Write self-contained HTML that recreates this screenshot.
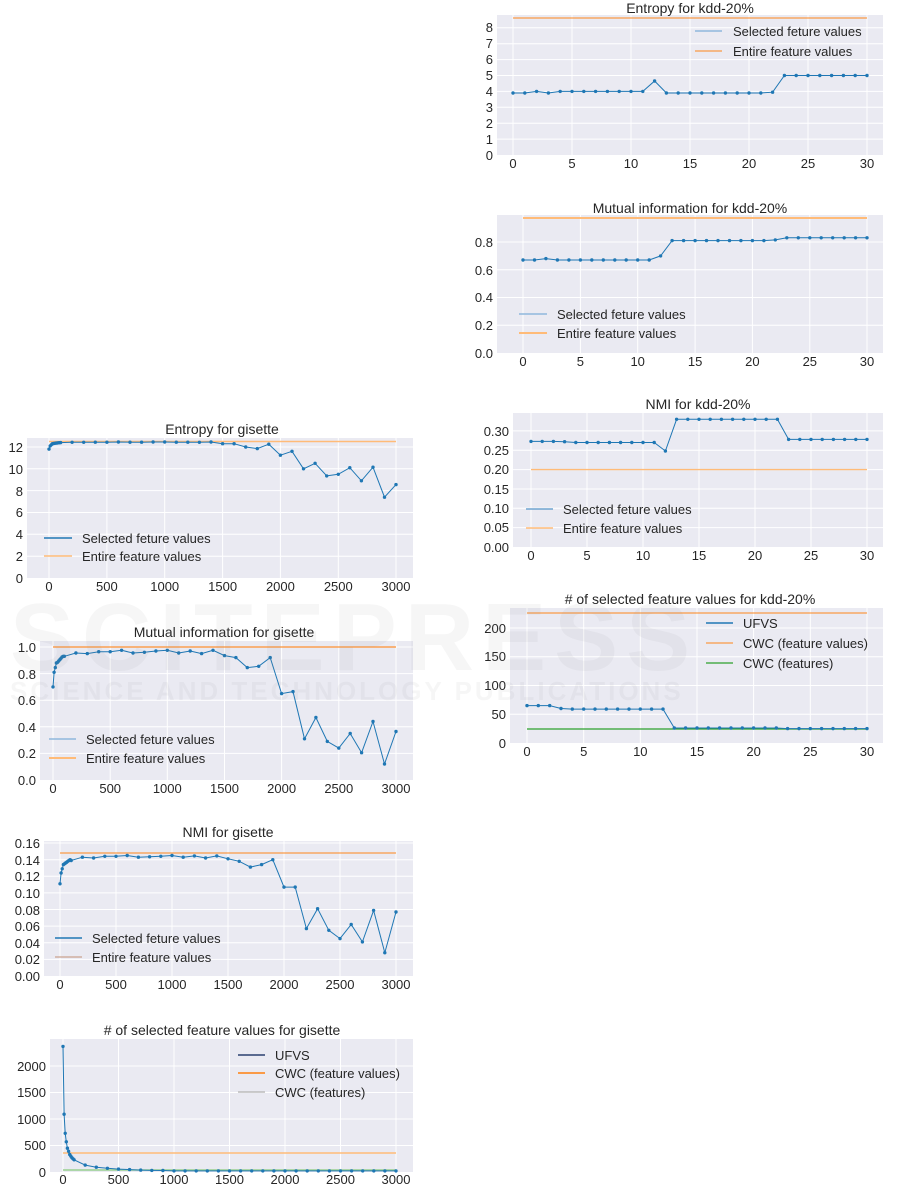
<!DOCTYPE html>
<html><head><meta charset="utf-8"><style>
html,body{margin:0;padding:0;background:#fff;}
svg{display:block;font-family:"Liberation Sans",Arial,sans-serif;}
.bg{fill:#eaeaf2}
.g{stroke:#fff;stroke-width:1}
.t{font-size:13px;fill:#262626}
.ti{font-size:14px;fill:#262626;text-anchor:middle}
.yl{text-anchor:end}
.xl{text-anchor:middle}
.s{fill:none;stroke:#1f77b4;stroke-width:1;marker-start:url(#m);marker-mid:url(#m);marker-end:url(#m)}
.o{stroke:#ff7f0e;stroke-width:1.2;opacity:.75}
.gr{stroke:#2ca02c;stroke-width:1.2}
.lb{stroke:#1f77b4;stroke-width:1.4}
</style></head><body>
<svg width="901" height="1184" viewBox="0 0 901 1184">
<defs><marker id="m" viewBox="0 0 4 4" refX="2" refY="2" markerWidth="4" markerHeight="4" markerUnits="userSpaceOnUse"><circle cx="2" cy="2" r="1.7" fill="#1f77b4"/></marker></defs>

<!-- C1 kdd entropy -->
<g>
<rect class="bg" x="497" y="15" width="386" height="140"/>
<g class="g">
<line x1="497" x2="883" y1="139.1" y2="139.1"/><line x1="497" x2="883" y1="123.2" y2="123.2"/><line x1="497" x2="883" y1="107.3" y2="107.3"/><line x1="497" x2="883" y1="91.4" y2="91.4"/><line x1="497" x2="883" y1="75.5" y2="75.5"/><line x1="497" x2="883" y1="59.6" y2="59.6"/><line x1="497" x2="883" y1="43.7" y2="43.7"/><line x1="497" x2="883" y1="27.8" y2="27.8"/>
<line x1="513" x2="513" y1="15" y2="155"/><line x1="572" x2="572" y1="15" y2="155"/><line x1="631" x2="631" y1="15" y2="155"/><line x1="690" x2="690" y1="15" y2="155"/><line x1="749" x2="749" y1="15" y2="155"/><line x1="808" x2="808" y1="15" y2="155"/><line x1="867" x2="867" y1="15" y2="155"/>
</g>
<line class="o" x1="513" x2="867" y1="18" y2="18"/>
<polyline class="s" points="513,93 524.8,93 536.6,91.4 548.4,93 560.2,91.4 572,91.4 583.8,91.4 595.6,91.4 607.4,91.4 619.2,91.4 631,91.4 642.8,91.4 654.6,81 666.4,93 678.2,93 690,93 701.8,93 713.6,93 725.4,93 737.2,93 749,93 760.8,93 772.6,92.2 784.4,75.5 796.2,75.5 808,75.5 819.8,75.5 831.6,75.5 843.4,75.5 855.2,75.5 867,75.5"/>
<text class="ti" x="690" y="13">Entropy for kdd-20%</text>
<g class="t yl"><text x="493" y="160">0</text><text x="493" y="144">1</text><text x="493" y="128">2</text><text x="493" y="112">3</text><text x="493" y="96">4</text><text x="493" y="80">5</text><text x="493" y="64">6</text><text x="493" y="48">7</text><text x="493" y="32">8</text></g>
<g class="t xl"><text x="513" y="168">0</text><text x="572" y="168">5</text><text x="631" y="168">10</text><text x="690" y="168">15</text><text x="749" y="168">20</text><text x="808" y="168">25</text><text x="867" y="168">30</text></g>
<line x1="695" x2="722" y1="31" y2="31" stroke="#8fb8dc" stroke-width="1.4"/><text class="t" x="733" y="36">Selected feture values</text>
<line class="o" x1="695" x2="722" y1="51" y2="51"/><text class="t" x="733" y="56">Entire feature values</text>
</g>

<!-- C2 kdd MI -->
<g>
<rect class="bg" x="497" y="215" width="386" height="138"/>
<g class="g">
<line x1="497" x2="883" y1="325.3" y2="325.3"/><line x1="497" x2="883" y1="297.5" y2="297.5"/><line x1="497" x2="883" y1="269.8" y2="269.8"/><line x1="497" x2="883" y1="242" y2="242"/>
<line x1="523" x2="523" y1="215" y2="353"/><line x1="580.4" x2="580.4" y1="215" y2="353"/><line x1="637.7" x2="637.7" y1="215" y2="353"/><line x1="695.1" x2="695.1" y1="215" y2="353"/><line x1="752.4" x2="752.4" y1="215" y2="353"/><line x1="809.8" x2="809.8" y1="215" y2="353"/><line x1="867" x2="867" y1="215" y2="353"/>
</g>
<line x1="523" x2="867" y1="218" y2="218" stroke="#ffbb78" stroke-width="2"/>
<polyline class="s" points="523,260 534.5,260 545.9,258.6 557.4,260 568.9,260 580.4,260 591.8,260 603.3,260 614.8,260 626.2,260 637.7,260 649.2,260 660.6,255.9 672.1,240.6 683.6,240.6 695.1,240.6 706.5,240.6 718,240.6 729.5,240.6 740.9,240.6 752.4,240.6 763.9,240.6 775.3,239.9 786.8,237.8 798.3,237.8 809.8,237.8 821.2,237.8 832.7,237.8 844.2,237.8 855.6,237.8 867,237.8"/>
<text class="ti" x="690" y="213">Mutual information for kdd-20%</text>
<g class="t yl"><text x="493" y="358">0.0</text><text x="493" y="330">0.2</text><text x="493" y="302">0.4</text><text x="493" y="275">0.6</text><text x="493" y="247">0.8</text></g>
<g class="t xl"><text x="523" y="366">0</text><text x="580.4" y="366">5</text><text x="637.7" y="366">10</text><text x="695.1" y="366">15</text><text x="752.4" y="366">20</text><text x="809.8" y="366">25</text><text x="867" y="366">30</text></g>
<line x1="519" x2="547" y1="314" y2="314" stroke="#8fb8dc" stroke-width="1.4"/><text class="t" x="557" y="319">Selected feture values</text>
<line x1="519" x2="547" y1="333" y2="333" stroke="#ffbb78" stroke-width="2"/><text class="t" x="557" y="338">Entire feature values</text>
</g>

<!-- C3 kdd NMI -->
<g>
<rect class="bg" x="513" y="413" width="370" height="134"/>
<g class="g">
<line x1="513" x2="883" y1="527.65" y2="527.65"/><line x1="513" x2="883" y1="508.3" y2="508.3"/><line x1="513" x2="883" y1="488.95" y2="488.95"/><line x1="513" x2="883" y1="469.6" y2="469.6"/><line x1="513" x2="883" y1="450.25" y2="450.25"/><line x1="513" x2="883" y1="430.9" y2="430.9"/>
<line x1="531" x2="531" y1="413" y2="547"/><line x1="587" x2="587" y1="413" y2="547"/><line x1="643" x2="643" y1="413" y2="547"/><line x1="699" x2="699" y1="413" y2="547"/><line x1="755" x2="755" y1="413" y2="547"/><line x1="811" x2="811" y1="413" y2="547"/><line x1="867" x2="867" y1="413" y2="547"/>
</g>
<line x1="531" x2="867" y1="469.6" y2="469.6" stroke="#ffbb78" stroke-width="1.4"/>
<polyline class="s" points="531,441.4 542.2,441.4 553.4,441.4 564.6,441.7 575.8,442.5 587,442.5 598.2,442.5 609.4,442.5 620.6,442.5 631.8,442.5 643,442.5 654.2,442.5 665.4,451 676.6,419.3 687.8,419.3 699,419.3 710.2,419.3 721.4,419.3 732.6,419.3 743.8,419.3 755,419.3 766.2,419.3 777.4,419.3 788.6,439.4 799.8,439.4 811,439.4 822.2,439.4 833.4,439.4 844.6,439.4 855.8,439.4 867,439.4"/>
<text class="ti" x="698" y="409">NMI for kdd-20%</text>
<g class="t yl"><text x="509" y="552">0.00</text><text x="509" y="532">0.05</text><text x="509" y="513">0.10</text><text x="509" y="494">0.15</text><text x="509" y="474">0.20</text><text x="509" y="455">0.25</text><text x="509" y="436">0.30</text></g>
<g class="t xl"><text x="531" y="560">0</text><text x="587" y="560">5</text><text x="643" y="560">10</text><text x="699" y="560">15</text><text x="755" y="560">20</text><text x="811" y="560">25</text><text x="867" y="560">30</text></g>
<line x1="526" x2="553" y1="509" y2="509" stroke="#6fa3cf" stroke-width="1.6"/><text class="t" x="563" y="514">Selected feture values</text>
<line x1="526" x2="553" y1="528" y2="528" stroke="#ffbb78" stroke-width="1.4"/><text class="t" x="563" y="533">Entire feature values</text>
</g>

<!-- C4 kdd count -->
<g>
<rect class="bg" x="510" y="608" width="373" height="135"/>
<g class="g">
<line x1="510" x2="883" y1="714.25" y2="714.25"/><line x1="510" x2="883" y1="685.5" y2="685.5"/><line x1="510" x2="883" y1="656.75" y2="656.75"/><line x1="510" x2="883" y1="628" y2="628"/>
<line x1="527" x2="527" y1="608" y2="743"/><line x1="583.7" x2="583.7" y1="608" y2="743"/><line x1="640.3" x2="640.3" y1="608" y2="743"/><line x1="697" x2="697" y1="608" y2="743"/><line x1="753.6" x2="753.6" y1="608" y2="743"/><line x1="810.3" x2="810.3" y1="608" y2="743"/><line x1="867" x2="867" y1="608" y2="743"/>
</g>
<line class="o" x1="527" x2="867" y1="613" y2="613"/>
<line class="gr" x1="527" x2="867" y1="729" y2="729"/>
<polyline class="s" points="527,705.6 538.3,705.6 549.7,705.6 561,708.5 572.3,709.1 583.7,709.1 595,709.1 606.3,709.1 617.6,709.1 629,709.1 640.3,709.1 651.6,709.1 663,709.1 674.3,728 685.6,728 697,728 708.3,728 719.6,728 731,728 742.3,728 753.6,728 765,728 776.3,728 787.6,728.6 799,728.6 810.3,728.6 821.6,728.6 833,728.6 844.3,728.6 855.6,728.6 867,728.6"/>
<text class="ti" x="690" y="604"># of selected feature values for kdd-20%</text>
<g class="t yl"><text x="506" y="748">0</text><text x="506" y="719">50</text><text x="506" y="690">100</text><text x="506" y="661">150</text><text x="506" y="633">200</text></g>
<g class="t xl"><text x="527" y="756">0</text><text x="583.7" y="756">5</text><text x="640.3" y="756">10</text><text x="697" y="756">15</text><text x="753.6" y="756">20</text><text x="810.3" y="756">25</text><text x="867" y="756">30</text></g>
<line class="lb" x1="706" x2="733" y1="623" y2="623"/><text class="t" x="743" y="628">UFVS</text>
<line class="o" x1="706" x2="733" y1="643" y2="643"/><text class="t" x="743" y="648">CWC (feature values)</text>
<line class="gr" x1="706" x2="733" y1="663" y2="663"/><text class="t" x="743" y="668">CWC (features)</text>
</g>

<!-- G1 gisette entropy -->
<g>
<rect class="bg" x="27" y="438" width="386" height="140"/>
<g class="g">
<line x1="27" x2="413" y1="556.2" y2="556.2"/><line x1="27" x2="413" y1="534.3" y2="534.3"/><line x1="27" x2="413" y1="512.5" y2="512.5"/><line x1="27" x2="413" y1="490.6" y2="490.6"/><line x1="27" x2="413" y1="468.8" y2="468.8"/><line x1="27" x2="413" y1="447" y2="447"/>
<line x1="49" x2="49" y1="438" y2="578"/><line x1="106.9" x2="106.9" y1="438" y2="578"/><line x1="164.7" x2="164.7" y1="438" y2="578"/><line x1="222.6" x2="222.6" y1="438" y2="578"/><line x1="280.4" x2="280.4" y1="438" y2="578"/><line x1="338.3" x2="338.3" y1="438" y2="578"/><line x1="396" x2="396" y1="438" y2="578"/>
</g>
<line x1="49" x2="396" y1="441.5" y2="441.5" stroke="#ffbb78" stroke-width="1.4"/>
<polyline class="s" points="49,449.1 50.2,445.9 51.3,444.8 52.5,443.7 53.6,443.5 54.8,443.3 55.9,443.1 57.1,443 58.3,442.8 59.4,442.7 60.6,442.6 72.1,442.3 83.7,442.3 95.3,442.2 106.9,442.2 118.4,442 130,442.2 141.6,442.2 153.1,442 164.7,442 176.3,442.2 187.8,442.2 199.4,442.3 211,442 222.6,443.7 234.1,443.7 245.7,447 257.3,448.6 268.8,444.2 280.4,455.2 292,451.3 303.5,468.8 315.1,463.3 326.7,475.9 338.3,474.3 349.8,467.7 361.4,480.8 373,467.2 384.5,497.2 396,484.6"/>
<text class="ti" x="222" y="434">Entropy for gisette</text>
<g class="t yl"><text x="23" y="583">0</text><text x="23" y="561">2</text><text x="23" y="539">4</text><text x="23" y="517">6</text><text x="23" y="496">8</text><text x="23" y="474">10</text><text x="23" y="452">12</text></g>
<g class="t xl"><text x="49" y="591">0</text><text x="106.9" y="591">500</text><text x="164.7" y="591">1000</text><text x="222.6" y="591">1500</text><text x="280.4" y="591">2000</text><text x="338.3" y="591">2500</text><text x="396" y="591">3000</text></g>
<line class="lb" x1="44" x2="72" y1="538" y2="538"/><text class="t" x="82" y="543">Selected feture values</text>
<line x1="44" x2="72" y1="556" y2="556" stroke="#ffbb78" stroke-width="1.4"/><text class="t" x="82" y="561">Entire feature values</text>
</g>

<!-- G2 gisette MI -->
<g>
<rect class="bg" x="40" y="641" width="373" height="139"/>
<g class="g">
<line x1="40" x2="413" y1="753.4" y2="753.4"/><line x1="40" x2="413" y1="726.8" y2="726.8"/><line x1="40" x2="413" y1="700.2" y2="700.2"/><line x1="40" x2="413" y1="673.6" y2="673.6"/><line x1="40" x2="413" y1="647" y2="647"/>
<line x1="53" x2="53" y1="641" y2="780"/><line x1="110.2" x2="110.2" y1="641" y2="780"/><line x1="167.3" x2="167.3" y1="641" y2="780"/><line x1="224.5" x2="224.5" y1="641" y2="780"/><line x1="281.6" x2="281.6" y1="641" y2="780"/><line x1="338.8" x2="338.8" y1="641" y2="780"/><line x1="396" x2="396" y1="641" y2="780"/>
</g>
<line class="o" x1="53" x2="396" y1="647" y2="647" style="opacity:.85"/>
<polyline class="s" points="53,686.9 54.1,672.3 55.3,667.6 56.4,663 57.6,662.3 58.7,661 59.9,659.6 61,658.3 62.1,657 63.3,656.3 64.4,656.3 75.9,653 87.3,653.6 98.7,651.7 110.2,651.7 121.6,650.3 133,653 144.4,652.3 155.9,651 167.3,650.3 178.7,653 190.2,651 201.6,653.6 213,650.3 224.5,655.6 235.9,657.6 247.3,667.6 258.7,666.3 270.2,657.6 281.6,693.6 293,691.6 304.5,738.8 315.9,717.5 327.3,741.4 338.8,748.1 350.2,733.5 361.6,752.7 373,721.5 384.5,764 396,731.5"/>
<text class="ti" x="224" y="637">Mutual information for gisette</text>
<g class="t yl"><text x="36" y="785">0.0</text><text x="36" y="758">0.2</text><text x="36" y="732">0.4</text><text x="36" y="705">0.6</text><text x="36" y="679">0.8</text><text x="36" y="652">1.0</text></g>
<g class="t xl"><text x="53" y="793">0</text><text x="110.2" y="793">500</text><text x="167.3" y="793">1000</text><text x="224.5" y="793">1500</text><text x="281.6" y="793">2000</text><text x="338.8" y="793">2500</text><text x="396" y="793">3000</text></g>
<line x1="49" x2="76" y1="739" y2="739" stroke="#8fb8dc" stroke-width="1.4"/><text class="t" x="86" y="744">Selected feture values</text>
<line x1="49" x2="76" y1="758" y2="758" stroke="#ffbb78" stroke-width="2"/><text class="t" x="86" y="763">Entire feature values</text>
</g>

<!-- G3 gisette NMI -->
<g>
<rect class="bg" x="44" y="841" width="369" height="135"/>
<g class="g">
<line x1="44" x2="413" y1="959.4" y2="959.4"/><line x1="44" x2="413" y1="942.8" y2="942.8"/><line x1="44" x2="413" y1="926.1" y2="926.1"/><line x1="44" x2="413" y1="909.5" y2="909.5"/><line x1="44" x2="413" y1="892.9" y2="892.9"/><line x1="44" x2="413" y1="876.3" y2="876.3"/><line x1="44" x2="413" y1="859.7" y2="859.7"/><line x1="44" x2="413" y1="843" y2="843"/>
<line x1="60" x2="60" y1="841" y2="976"/><line x1="116" x2="116" y1="841" y2="976"/><line x1="172" x2="172" y1="841" y2="976"/><line x1="228" x2="228" y1="841" y2="976"/><line x1="284" x2="284" y1="841" y2="976"/><line x1="340" x2="340" y1="841" y2="976"/><line x1="396" x2="396" y1="841" y2="976"/>
</g>
<line class="o" x1="60" x2="396" y1="853" y2="853"/>
<polyline class="s" points="60,883.8 61.1,873 62.2,868.8 63.4,864.6 64.5,863.8 65.6,863 66.7,862.2 67.8,861.3 69,860.5 70.1,859.7 71.2,860.5 82.4,857.2 93.6,858 104.8,856.3 116,856.3 127.2,855.5 138.4,857.2 149.6,856.8 160.8,856.3 172,855.5 183.2,857.2 194.4,855.9 205.6,858 216.8,855.9 228,858.8 239.2,861.3 250.4,867.1 261.6,864.6 272.8,859.7 284,887.1 295.2,887.1 306.4,928.6 317.6,908.7 328.8,930.3 340,938.6 351.2,924.5 362.4,941.9 373.6,910.4 384.8,952.7 396,912"/>
<text class="ti" x="228" y="837">NMI for gisette</text>
<g class="t yl"><text x="40" y="981">0.00</text><text x="40" y="964">0.02</text><text x="40" y="948">0.04</text><text x="40" y="931">0.06</text><text x="40" y="915">0.08</text><text x="40" y="898">0.10</text><text x="40" y="881">0.12</text><text x="40" y="865">0.14</text><text x="40" y="848">0.16</text></g>
<g class="t xl"><text x="60" y="989">0</text><text x="116" y="989">500</text><text x="172" y="989">1000</text><text x="228" y="989">1500</text><text x="284" y="989">2000</text><text x="340" y="989">2500</text><text x="396" y="989">3000</text></g>
<line class="lb" x1="55" x2="82" y1="938" y2="938"/><text class="t" x="92" y="943">Selected feture values</text>
<line x1="55" x2="82" y1="957" y2="957" stroke="#c9a28f" stroke-width="1.2"/><text class="t" x="92" y="962">Entire feature values</text>
</g>

<!-- G4 gisette count -->
<g>
<rect class="bg" x="50" y="1039" width="363" height="133"/>
<g class="g">
<line x1="50" x2="413" y1="1145.5" y2="1145.5"/><line x1="50" x2="413" y1="1119" y2="1119"/><line x1="50" x2="413" y1="1092.5" y2="1092.5"/><line x1="50" x2="413" y1="1066" y2="1066"/>
<line x1="63" x2="63" y1="1039" y2="1172"/><line x1="118.5" x2="118.5" y1="1039" y2="1172"/><line x1="174" x2="174" y1="1039" y2="1172"/><line x1="229.5" x2="229.5" y1="1039" y2="1172"/><line x1="285" x2="285" y1="1039" y2="1172"/><line x1="340.5" x2="340.5" y1="1039" y2="1172"/><line x1="396" x2="396" y1="1039" y2="1172"/>
</g>
<line x1="63" x2="396" y1="1153" y2="1153" stroke="#ffbb78" stroke-width="1.4"/>
<line x1="63" x2="396" y1="1170" y2="1170" stroke="#98d08f" stroke-width="1.4"/>
<polyline class="s" points="63,1046.4 64.1,1114.2 65.2,1133.3 66.3,1141.8 67.4,1148.2 68.6,1151.3 69.7,1154.5 70.8,1156.1 71.9,1157.7 73,1158.8 74.1,1159.8 85.2,1165.1 96.3,1167.2 107.4,1168.3 118.5,1169.1 129.6,1169.6 140.7,1170.1 151.8,1170.4 162.9,1170.5 174,1170.9 185.1,1170.9 196.2,1170.9 207.3,1170.9 218.4,1170.9 229.5,1170.9 240.6,1170.9 251.7,1170.9 262.8,1170.9 273.9,1170.9 285,1170.9 296.1,1170.9 307.2,1170.9 318.3,1170.9 329.4,1170.9 340.5,1170.9 351.6,1170.9 362.7,1170.9 373.8,1170.9 384.9,1170.9 396,1170.9"/>
<text class="ti" x="222" y="1035"># of selected feature values for gisette</text>
<g class="t yl"><text x="46" y="1177">0</text><text x="46" y="1150">500</text><text x="46" y="1124">1000</text><text x="46" y="1097">1500</text><text x="46" y="1071">2000</text></g>
<g class="t xl"><text x="63" y="1184">0</text><text x="118.5" y="1184">500</text><text x="174" y="1184">1000</text><text x="229.5" y="1184">1500</text><text x="285" y="1184">2000</text><text x="340.5" y="1184">2500</text><text x="396" y="1184">3000</text></g>
<line x1="238" x2="265" y1="1055" y2="1055" stroke="#2a3f6f" stroke-width="1.4"/><text class="t" x="275" y="1060">UFVS</text>
<line x1="238" x2="265" y1="1073" y2="1073" stroke="#ff7f0e" stroke-width="1.4"/><text class="t" x="275" y="1078">CWC (feature values)</text>
<line x1="238" x2="265" y1="1092" y2="1092" stroke="#bbb" stroke-width="1.4"/><text class="t" x="275" y="1097">CWC (features)</text>
</g>

<!-- faint watermark -->
<g opacity="0.07" fill="#888" font-weight="bold">
<text x="10" y="670" font-size="96" letter-spacing="8">SCITEPRESS</text>
<text x="10" y="700" font-size="26" letter-spacing="3">SCIENCE AND TECHNOLOGY PUBLICATIONS</text>
</g>
</svg>
</body></html>
